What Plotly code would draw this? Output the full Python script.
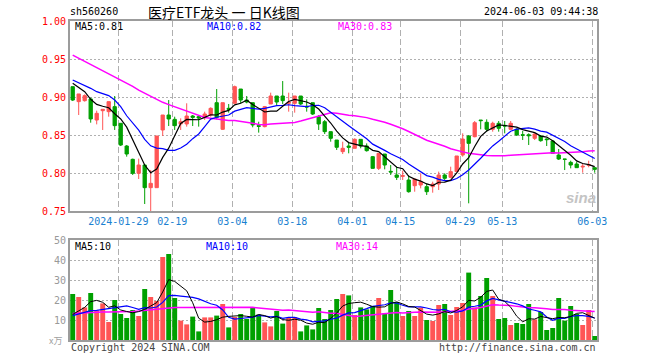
import plotly.graph_objects as go
import pandas as pd

# ---------------- data ----------------
opens = [0.9136, 0.8939, 0.8952, 0.8974, 0.8697, 0.8820, 0.8807, 0.8873, 0.8654, 0.8355,
         0.8180, 0.7996, 0.8105, 0.7807, 0.7807, 0.8566, 0.8763, 0.8706, 0.8645, 0.8645,
         0.8750, 0.8741, 0.8741, 0.8763, 0.8925, 0.8575, 0.8851, 0.8917, 0.9105, 0.8960,
         0.8925, 0.8623, 0.8610, 0.8908, 0.9013, 0.9013, 0.8917, 0.8917, 0.9013, 0.8877,
         0.8925, 0.8741, 0.8675, 0.8544, 0.8434, 0.8281, 0.8355, 0.8325, 0.8443, 0.8355,
         0.8215, 0.8061, 0.8250, 0.8022, 0.7974, 0.7956, 0.7908, 0.7833, 0.7842, 0.7820,
         0.7820, 0.7855, 0.7974, 0.7943, 0.8018, 0.8237, 0.8487, 0.8478, 0.8697, 0.8667,
         0.8575, 0.8654, 0.8627, 0.8575, 0.8575, 0.8504, 0.8504, 0.8456, 0.8487, 0.8447,
         0.8421, 0.8237, 0.8184, 0.8140, 0.8118, 0.8079, 0.8101, 0.8070]
highs = [0.9136, 0.9040, 0.9035, 0.8992, 0.8820, 0.8838, 0.8939, 0.9013, 0.8654, 0.8368,
         0.8189, 0.8189, 0.8118, 0.8040, 0.8487, 0.8763, 0.8960, 0.8741, 0.8719, 0.8917,
         0.8763, 0.8758, 0.8807, 0.8864, 0.9105, 0.8925, 0.8908, 0.9150, 0.9105, 0.9013,
         0.8925, 0.8675, 0.8882, 0.9057, 0.9013, 0.9210, 0.9057, 0.9013, 0.9013, 0.8969,
         0.8925, 0.8763, 0.8697, 0.8544, 0.8434, 0.8412, 0.8399, 0.8456, 0.8443, 0.8390,
         0.8224, 0.8259, 0.8250, 0.8105, 0.8083, 0.8031, 0.7974, 0.7921, 0.7996, 0.7864,
         0.7886, 0.8018, 0.7996, 0.8083, 0.8224, 0.8522, 0.8500, 0.8684, 0.8697, 0.8706,
         0.8675, 0.8684, 0.8684, 0.8684, 0.8588, 0.8553, 0.8522, 0.8522, 0.8500, 0.8456,
         0.8434, 0.8316, 0.8184, 0.8162, 0.8149, 0.8123, 0.8162, 0.8070]
lows = [0.8947, 0.8763, 0.8939, 0.8662, 0.8640, 0.8566, 0.8741, 0.8566, 0.8355, 0.8215,
        0.7974, 0.7921, 0.7592, 0.7500, 0.7807, 0.8487, 0.8618, 0.8566, 0.8566, 0.8610,
        0.8618, 0.8610, 0.8697, 0.8741, 0.8706, 0.8566, 0.8794, 0.8917, 0.8917, 0.8917,
        0.8601, 0.8531, 0.8601, 0.8908, 0.8882, 0.8908, 0.8807, 0.8794, 0.8895, 0.8807,
        0.8763, 0.8566, 0.8513, 0.8412, 0.8303, 0.8250, 0.8259, 0.8325, 0.8325, 0.8281,
        0.8061, 0.8039, 0.8048, 0.7974, 0.7908, 0.7908, 0.7741, 0.7754, 0.7798, 0.7711,
        0.7741, 0.7776, 0.7908, 0.7930, 0.8018, 0.8215, 0.7601, 0.8469, 0.8575, 0.8544,
        0.8544, 0.8544, 0.8522, 0.8566, 0.8487, 0.8434, 0.8368, 0.8434, 0.8412, 0.8355,
        0.8259, 0.8171, 0.8039, 0.8061, 0.8066, 0.8004, 0.8075, 0.8004]
closes = [0.8960, 0.9040, 0.9018, 0.8711, 0.8785, 0.8838, 0.8939, 0.8623, 0.8368, 0.8250,
          0.7996, 0.8105, 0.7807, 0.7864, 0.8487, 0.8763, 0.8711, 0.8623, 0.8675, 0.8750,
          0.8732, 0.8724, 0.8776, 0.8851, 0.8732, 0.8925, 0.8838, 0.9136, 0.8960, 0.8934,
          0.8632, 0.8614, 0.8873, 0.9013, 0.8934, 0.8952, 0.8930, 0.9013, 0.8908, 0.8868,
          0.8776, 0.8645, 0.8544, 0.8456, 0.8338, 0.8325, 0.8338, 0.8443, 0.8355, 0.8294,
          0.8061, 0.8259, 0.8105, 0.8013, 0.7943, 0.7965, 0.7754, 0.7921, 0.7886, 0.7754,
          0.7855, 0.7974, 0.7930, 0.8018, 0.8224, 0.8447, 0.8390, 0.8662, 0.8689, 0.8575,
          0.8654, 0.8588, 0.8618, 0.8654, 0.8500, 0.8496, 0.8491, 0.8513, 0.8425, 0.8439,
          0.8259, 0.8184, 0.8180, 0.8105, 0.8070, 0.8088, 0.8110, 0.8048]
volumes = [23, 21.5, 16.3, 23.5, 14.7, 18.3, 9, 20, 13, 11,
           15, 12, 25.5, 21.5, 19.5, 41.5, 43, 21, 9.7, 7.8,
           11.7, 4.3, 11.3, 11.3, 12.2, 18, 6.3, 11.5, 13, 10.5,
           16, 12.7, 8.8, 6.8, 14.5, 8.2, 11, 11.5, 4.3, 7.3,
           5.3, 16, 10.5, 15, 20.5, 23, 22.3, 12.5, 16.3, 15.3,
           17, 21, 13.3, 25, 19, 12, 14.5, 12, 16.2, 10,
           9.5, 17.5, 18, 12.5, 16.5, 18.5, 33.7, 16.3, 22, 31,
           22, 10.5, 11, 7.5, 8.5, 8, 18, 10.3, 14, 5,
           6, 21, 9.7, 17, 13, 7.5, 15, 2]

# moving-average values at the left edge (window reaches before the first candle)
ma5_head = [0.918, 0.913, 0.907, 0.897]
ma10_head = [0.9224, 0.9189, 0.9158, 0.9114, 0.907, 0.9048, 0.9018, 0.896, 0.8873]
ma30_head = [0.955, 0.951, 0.947, 0.943, 0.939, 0.935, 0.931, 0.927, 0.923, 0.919,
             0.914, 0.909, 0.905, 0.900, 0.897, 0.893, 0.890, 0.887, 0.884, 0.881,
             0.878, 0.875, 0.873, 0.872, 0.871, 0.870, 0.869, 0.869, 0.868]
vma5_head = [12.8, 14.7, 16.3, 19.2]
vma10_head = [12.2, 13.0, 13.8, 14.7, 14.8, 15.2, 15.7, 16.2, 16.7]
vma30_head = [13.3, 13.5, 13.7, 13.9, 14.0, 14.0, 14.0, 14.0, 14.0, 14.1,
              14.3, 14.5, 14.8, 15.2, 15.6, 16.0, 16.3, 16.3, 16.3, 16.3,
              16.3, 16.3, 16.3, 16.3, 16.3, 16.3, 16.3, 16.3, 16.3]

tick_index = [8, 17, 27, 37, 47, 55, 65, 72, 87]
tick_labels = ["2024-01-29", "02-19", "03-04", "03-18", "04-01",
               "04-15", "04-29", "05-13", "06-03"]
price_ticks = [0.75, 0.80, 0.85, 0.90, 0.95, 1.00]
vol_ticks = [10, 20, 30, 40, 50]

header_code = "sh560260"
header_title = "医疗ETF龙头 一 日K线图"
header_time = "2024-06-03 09:44:38"
price_ma_labels = ["MA5:0.81", "MA10:0.82", "MA30:0.83"]
vol_ma_labels = ["MA5:10", "MA10:10", "MA30:14"]

# ---------------- helpers ----------------
def moving_average(vals, w, head):
    s = pd.Series(vals).rolling(w).mean().tolist()
    return list(head) + s[len(head):]

n = len(closes)
x = list(range(n))
UP, DOWN = "#ff5555", "#00a000"
MONO = "DejaVu Sans Mono"
GRID = "#b0b0b0"
FRAME = "#9c9c9c"

ma5 = moving_average(closes, 5, ma5_head)
ma10 = moving_average(closes, 10, ma10_head)
ma30 = moving_average(closes, 30, ma30_head)
vma5 = moving_average(volumes, 5, vma5_head)
vma10 = moving_average(volumes, 10, vma10_head)
vma30 = moving_average(volumes, 30, vma30_head)
bar_colors = [UP if c >= o else DOWN for o, c in zip(opens, closes)]

# pixel layout
W, H = 660, 360
L, R, T, B = 70, 597, 21, 340
PRICE_BOTTOM, VOL_TOP = 211, 240

def pp(xp, yp):
    return (xp - L) / (R - L), (B - yp) / (B - T)

fig = go.Figure()
fig.add_trace(go.Candlestick(
    x=x, open=opens, high=highs, low=lows, close=closes,
    increasing=dict(line=dict(color=UP, width=1), fillcolor=UP),
    decreasing=dict(line=dict(color=DOWN, width=1), fillcolor=DOWN),
    whiskerwidth=0, xaxis="x", yaxis="y", showlegend=False, hoverinfo="skip"))
for vals, col, wd in [(ma30, "#ff00ff", 1.5), (ma10, "#0000ff", 1.2), (ma5, "#000000", 1.2)]:
    fig.add_trace(go.Scatter(x=x, y=vals, mode="lines", line=dict(color=col, width=wd),
                             xaxis="x", yaxis="y", showlegend=False, hoverinfo="skip"))

fig.add_trace(go.Bar(x=x, y=volumes, marker=dict(color=bar_colors, line=dict(width=0)),
                     width=0.82, xaxis="x2", yaxis="y2", showlegend=False, hoverinfo="skip"))
for vals, col, wd in [(vma30, "#ff00ff", 1.5), (vma10, "#0000ff", 1.2), (vma5, "#000000", 1.0)]:
    fig.add_trace(go.Scatter(x=x, y=vals, mode="lines", line=dict(color=col, width=wd),
                             xaxis="x2", yaxis="y2", showlegend=False, hoverinfo="skip"))

xr = [-0.45, n - 1 + (R - (72.7 + 6 * (n - 1))) / 6]
grid_x = [i - 0.4 for i in tick_index]
common_x = dict(range=xr, showgrid=True, gridcolor=GRID, gridwidth=1.5, griddash="6px,3px",
                showline=True, linecolor=FRAME, linewidth=2, mirror=True, ticks="",
                zeroline=False, tickvals=grid_x, fixedrange=True)
fig.update_layout(
    width=W, height=H, margin=dict(l=L, r=W - R, t=T, b=H - B),
    paper_bgcolor="white", plot_bgcolor="white", showlegend=False, boxgap=0.22,
    xaxis=dict(**common_x, anchor="y", domain=[0, 1], ticktext=tick_labels,
               tickfont=dict(family=MONO, size=10, color="#1a7fd0"),
               rangeslider=dict(visible=False)),
    xaxis2=dict(**common_x, anchor="y2", domain=[0, 1], showticklabels=False),
    yaxis=dict(domain=[(B - PRICE_BOTTOM) / (B - T), 1], range=[0.75, 1.0],
               tickvals=price_ticks, ticktext=["%.2f" % v for v in price_ticks],
               tickfont=dict(family=MONO, size=10, color="#ff0000"),
               showgrid=True, gridcolor=GRID, gridwidth=1, griddash="2px,2px",
               showline=True, linecolor=FRAME, linewidth=2, mirror=True, ticks="",
               zeroline=False, anchor="x", fixedrange=True),
    yaxis2=dict(domain=[0, (B - VOL_TOP) / (B - T)], range=[0, 50],
                tickvals=vol_ticks, ticktext=[str(v) for v in vol_ticks],
                tickfont=dict(family=MONO, size=10, color="#999999"),
                showgrid=True, gridcolor=GRID, gridwidth=1, griddash="2px,2px",
                showline=True, linecolor=FRAME, linewidth=2, mirror=True, ticks="",
                zeroline=False, anchor="x2", fixedrange=True),
)

def label(text, xp, yp, color="#000000", size=10, anchor="left", family=MONO):
    px_, py_ = pp(xp, yp)
    fig.add_annotation(text=text, x=px_, y=py_, xref="paper", yref="paper",
                       xanchor=anchor, yanchor="middle", showarrow=False,
                       font=dict(family=family, size=size, color=color))

label(header_code, 68, 12)
label(header_title, 224, 12, size=14, anchor="center", family="Noto Sans CJK SC")
label(header_time, 600, 12, anchor="right")
for txt, xp, col in zip(price_ma_labels, [73, 205, 336], ["#000000", "#0000ff", "#ff00ff"]):
    label(txt, xp, 27, color=col)
for txt, xp, col in zip(vol_ma_labels, [73, 204, 334], ["#000000", "#0000ff", "#ff00ff"]):
    label(txt, xp, 246, color=col)
label("x万", 64, 340, color="#a0a0a0", size=9, anchor="right", family="Noto Sans CJK SC")
label("Copyright 2024 SINA.COM", 69, 347, color="#444444")
label("http://finance.sina.com.cn", 598, 347, color="#444444", anchor="right")
label("<b><i>sina</i></b>", 581, 197, color="#c4c4c4", size=15, anchor="center", family="Arial")

fig.write_html("out.html", config={"displayModeBar": False, "staticPlot": True},
               post_script="document.body.style.margin='0px';")
